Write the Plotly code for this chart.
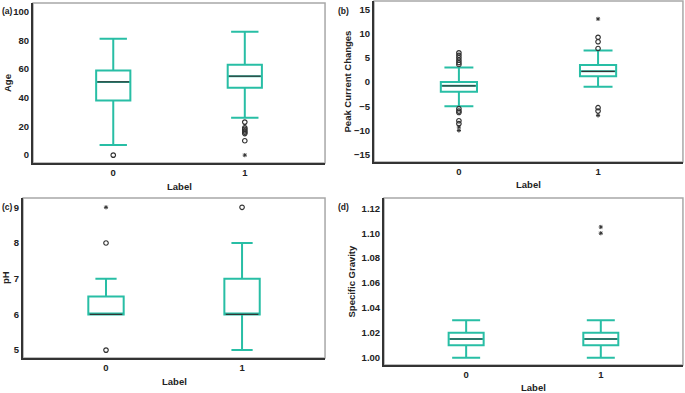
import plotly.graph_objects as go

labels = ["0", "1"]
xpos = [0, 1]

# (a) Age
age_q1 = [38, 47]
age_median = [51, 55]
age_q3 = [59, 63]
age_lower = [7, 26]
age_upper = [81, 86]
age_out_0 = [0]
age_out_1 = [23, 19, 18, 17, 16, 15, 10]
age_ext_0 = []
age_ext_1 = [0]

# (b) Peak Current Changes
pcc_q1 = [-2.0, 1.2]
pcc_median = [-0.8, 2.2]
pcc_q3 = [0.0, 3.5]
pcc_lower = [-5.0, -1.0]
pcc_upper = [3.0, 6.5]
pcc_out_0 = [3.6, 4.0, 4.5, 5.0, 5.5, 6.0, -5.5, -6.0, -6.3, -8.0, -8.6]
pcc_out_1 = [6.9, 8.3, 9.2, -5.3, -6.0]
pcc_ext_0 = [-9.3, -10.0]
pcc_ext_1 = [13.0, -6.9]

# (c) pH
ph_q1 = [6, 6]
ph_median = [6, 6]
ph_q3 = [6.5, 7]
ph_lower = [6, 5]
ph_upper = [7, 8]
ph_out_0 = [8, 5]
ph_out_1 = [9]
ph_ext_0 = [9]
ph_ext_1 = []

# (d) Specific Gravity
sg_q1 = [1.010, 1.010]
sg_median = [1.015, 1.015]
sg_q3 = [1.020, 1.020]
sg_lower = [1.000, 1.000]
sg_upper = [1.030, 1.030]
sg_out_0 = []
sg_out_1 = []
sg_ext_0 = []
sg_ext_1 = [1.100, 1.105]

TEAL = "rgb(40,190,165)"
DARK = "#333333"
BOXW = 0.26
FONT = "Liberation Sans"
TICKSZ = 9.5
TITLESZ = 9.5

panels = [
    dict(key="", q1=age_q1, med=age_median, q3=age_q3, lo=age_lower, hi=age_upper,
         out=[age_out_0, age_out_1], ext=[age_ext_0, age_ext_1],
         xd=[0.0482, 0.4745], yd=[0.5852, 0.9924], yr=[-5.5, 106], tv=[0, 20, 40, 60, 80, 100],
         fmt=None, ytitle="Age", ytx=7, tag="(a)", tagx=0, tagy=11, lbly=186, ww=0.8),
    dict(key="2", q1=pcc_q1, med=pcc_median, q3=pcc_q3, lo=pcc_lower, hi=pcc_upper,
         out=[pcc_out_0, pcc_out_1], ext=[pcc_ext_0, pcc_ext_1],
         xd=[0.546, 0.997], yd=[0.5878, 0.9975], yr=[-16.5, 16.7], tv=[-15, -10, -5, 0, 5, 10, 15],
         fmt=None, ytitle="Peak Current Changes", ytx=347, tag="(b)", tagx=336, tagy=11, lbly=185, ww=0.8),
    dict(key="3", q1=ph_q1, med=ph_median, q3=ph_q3, lo=ph_lower, hi=ph_upper,
         out=[ph_out_0, ph_out_1], ext=[ph_ext_0, ph_ext_1],
         xd=[0.0336, 0.4745], yd=[0.0891, 0.4962], yr=[4.78, 9.26], tv=[5, 6, 7, 8, 9],
         fmt=None, ytitle="pH", ytx=6, tag="(c)", tagx=0, tagy=207, lbly=381, ww=0.6),
    dict(key="4", q1=sg_q1, med=sg_median, q3=sg_q3, lo=sg_lower, hi=sg_upper,
         out=[sg_out_0, sg_out_1], ext=[sg_ext_0, sg_ext_1],
         xd=[0.5606, 0.997], yd=[0.0712, 0.4962], yr=[0.9941, 1.1283],
         tv=[1.00, 1.02, 1.04, 1.06, 1.08, 1.10, 1.12],
         fmt=".2f", ytitle="Specific Gravity", ytx=352, tag="(d)", tagx=336, tagy=207, lbly=387, ww=0.8),
]

fig = go.Figure()
W, H = 685, 393
annotations = []
shapes = []
layout = {}

for p in panels:
    k = p["key"]
    xa, ya = "x" + k, "y" + k
    fig.add_trace(go.Box(
        x=xpos, q1=p["q1"], median=p["med"], q3=p["q3"],
        lowerfence=p["lo"], upperfence=p["hi"],
        width=BOXW, whiskerwidth=p["ww"],
        line=dict(color=TEAL, width=2), fillcolor="rgba(0,0,0,0)",
        boxpoints=False, xaxis=xa, yaxis=ya, showlegend=False, hoverinfo="skip",
    ))
    mx, my = [], []
    for xi, m in zip(xpos, p["med"]):
        mx += [xi - BOXW / 2 + 0.01, xi + BOXW / 2 - 0.01, None]
        my += [m, m, None]
    fig.add_trace(go.Scatter(x=mx, y=my, mode="lines", line=dict(color=DARK, width=1.2),
                             xaxis=xa, yaxis=ya, showlegend=False, hoverinfo="skip"))
    for xi, pts in zip(xpos, p["out"]):
        if pts:
            fig.add_trace(go.Scatter(
                x=[xi] * len(pts), y=pts, mode="markers",
                marker=dict(symbol="circle-open", size=4.5, color=DARK, line=dict(width=1.2)),
                xaxis=xa, yaxis=ya, showlegend=False, hoverinfo="skip"))
    for xi, pts in zip(xpos, p["ext"]):
        if pts:
            fig.add_trace(go.Scatter(
                x=[xi] * len(pts), y=pts, mode="markers",
                marker=dict(symbol="asterisk-open", size=3.5, color=DARK, line=dict(width=1, color=DARK)),
                xaxis=xa, yaxis=ya, showlegend=False, hoverinfo="skip"))

    axx = dict(domain=p["xd"], anchor=ya, range=[-0.61, 1.61], tickvals=xpos, ticktext=labels,
               showgrid=False, zeroline=False, showline=True, linecolor=DARK, linewidth=2,
               ticks="", automargin=False,
               tickfont=dict(family=FONT, size=TICKSZ, color="#222", weight="bold"))
    axy = dict(domain=p["yd"], anchor=xa, range=p["yr"], tickvals=p["tv"],
               showgrid=False, zeroline=False, showline=True, linecolor=DARK, linewidth=2,
               ticks="", automargin=False,
               tickfont=dict(family=FONT, size=TICKSZ, color="#222", weight="bold"))
    if p["fmt"]:
        axy["tickformat"] = p["fmt"]
    layout["xaxis" + k] = axx
    layout["yaxis" + k] = axy

    shapes.append(dict(type="rect", xref=xa + " domain", yref=ya + " domain",
                       x0=0, x1=1, y0=0, y1=1, line=dict(color="#a8a8a8", width=1.5), layer="below"))
    cx = (p["xd"][0] + p["xd"][1]) / 2
    annotations.append(dict(text="Label", xref="paper", yref="paper", x=cx, y=1 - p["lbly"] / H,
                            showarrow=False, xanchor="center", yanchor="middle",
                            font=dict(family=FONT, size=TITLESZ, color="#222", weight="bold")))
    cy = (p["yd"][0] + p["yd"][1]) / 2
    annotations.append(dict(text=p["ytitle"], xref="paper", yref="paper", x=p["ytx"] / W, y=cy,
                            textangle=-90, showarrow=False, xanchor="center", yanchor="middle",
                            font=dict(family=FONT, size=TITLESZ, color="#222", weight="bold")))
    annotations.append(dict(text=p["tag"], xref="paper", yref="paper", x=p["tagx"] / W,
                            y=1 - p["tagy"] / H, showarrow=False, xanchor="left", yanchor="middle",
                            font=dict(family=FONT, size=8.5, color="#222", weight="bold")))

fig.update_layout(
    width=W, height=H, margin=dict(l=0, r=0, t=0, b=0),
    paper_bgcolor="white", plot_bgcolor="white",
    annotations=annotations, shapes=shapes, **layout,
)
fig.write_html("out.html", config={"displayModeBar": False},
               post_script="document.body.style.margin='0px';document.body.style.padding='0px';")
